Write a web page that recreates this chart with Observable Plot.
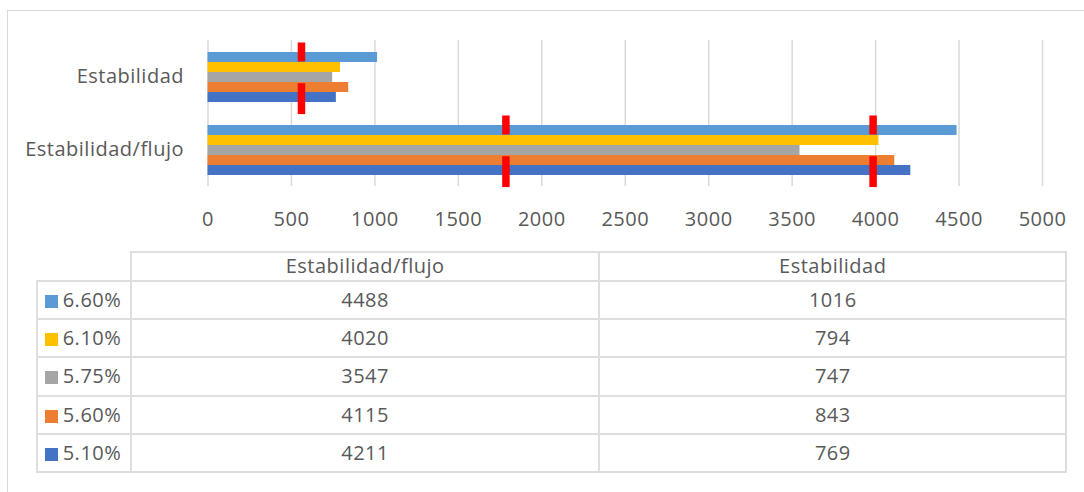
<!DOCTYPE html>
<html>
<head>
<meta charset="utf-8">
<script src="https://cdn.jsdelivr.net/npm/d3@7"></script>
<script src="https://cdn.jsdelivr.net/npm/@observablehq/plot@0.6"></script>
<style>
  html, body { margin: 0; padding: 0; background: #fff; }
  body { width: 1084px; height: 492px; overflow: hidden; position: relative; font-family: "Open Sans", sans-serif; color: #595959; }
  #frame { position: absolute; left: 7px; top: 9.5px; width: 1200px; height: 700px; border-top: 1.5px solid #d9d9d9; border-left: 1.5px solid #d9d9d9; }
  #chart { position: absolute; left: 0; top: 0; }
  #chart text { letter-spacing: 0.5px; }
  #table { position: absolute; left: 35.7px; top: 250.7px; border-collapse: collapse; table-layout: fixed; font-size: 20px; letter-spacing: 0.5px; color: #595959; }
  #table td { border: 2px solid #dedede; text-align: center; padding: 0; line-height: 1; white-space: nowrap; }
  #table td.corner { border: none; }
  #table td.leg { text-align: left; padding-left: 7px; }
  #table .sw { display: inline-block; width: 13px; height: 13px; margin-right: 5px; vertical-align: -1px; }
</style>
</head>
<body>
<div id="frame"></div>
<div id="chart"></div>
<table id="table"></table>
<script>
// ---- data ----
const categories = ["Estabilidad/flujo", "Estabilidad"];
const series = ["6.60%", "6.10%", "5.75%", "5.60%", "5.10%"];
const valuesFlujo = [4488, 4020, 3547, 4115, 4211];
const valuesEstabilidad = [1016, 794, 747, 843, 769];
const colors = ["#5B9BD5", "#FFC000", "#A5A5A5", "#ED7D31", "#4472C4"];
const xTicks = [0, 500, 1000, 1500, 2000, 2500, 3000, 3500, 4000, 4500, 5000];
const limitCategories = ["Estabilidad", "Estabilidad/flujo", "Estabilidad/flujo"];
const limitValues = [560, 1785, 3985];

// ---- tables for the library ----
const valuesByCategory = { "Estabilidad/flujo": valuesFlujo, "Estabilidad": valuesEstabilidad };
const rows = [];
categories.forEach(c => series.forEach((s, i) => rows.push({ category: c, series: s, value: valuesByCategory[c][i] })));
const limits = limitValues.map((v, i) => ({ category: limitCategories[i], value: v }));

const chart = Plot.plot({
  width: 1084,
  height: 240,
  marginLeft: 207.5,
  marginRight: 42,
  marginTop: 40,
  marginBottom: 53.3,
  style: { fontFamily: "'Open Sans', sans-serif", fontSize: "20px", color: "#595959", background: "transparent", overflow: "visible" },
  x: { domain: [0, 5000], ticks: xTicks, tickSize: 0, tickPadding: 25.5, tickFormat: d => String(d), label: null },
  fy: { domain: [...categories].reverse(), padding: 0, tickSize: 0, tickPadding: 24, label: null },
  y: { domain: series, paddingInner: 0, paddingOuter: 0.94, axis: null },
  color: { domain: series, range: colors },
  marks: [
    Plot.gridX(xTicks, { stroke: "#d9d9d9", strokeOpacity: 1, strokeWidth: 1.5 }),
    Plot.barX(rows, { x: "value", y: "series", fy: "category", fill: "series" }),
    Plot.tickX(limits, { x: "value", y: () => series[0], fy: "category", stroke: "#ff0000", strokeWidth: 7.5, insetTop: -9.5, insetBottom: 0.5 }),
    Plot.tickX(limits, { x: "value", y: () => series[series.length - 1], fy: "category", stroke: "#ff0000", strokeWidth: 7.5, insetTop: -8.8, insetBottom: -12.1 })
  ]
});
document.getElementById("chart").appendChild(chart);

// ---- data table ----
const table = d3.select("#table");
const cg = table.append("colgroup");
[94.3, 468.3, 467].forEach(w => cg.append("col").style("width", w + "px"));
const head = table.append("tr").style("height", "29px");
head.append("td").attr("class", "corner");
categories.forEach(c => head.append("td").text(c));
series.forEach((s, i) => {
  const tr = table.append("tr").style("height", "38.3px");
  const leg = tr.append("td").attr("class", "leg");
  leg.append("span").attr("class", "sw").style("background", colors[i]);
  leg.append("span").text(s);
  categories.forEach(c => tr.append("td").text(valuesByCategory[c][i]));
});
</script>
</body>
</html>
